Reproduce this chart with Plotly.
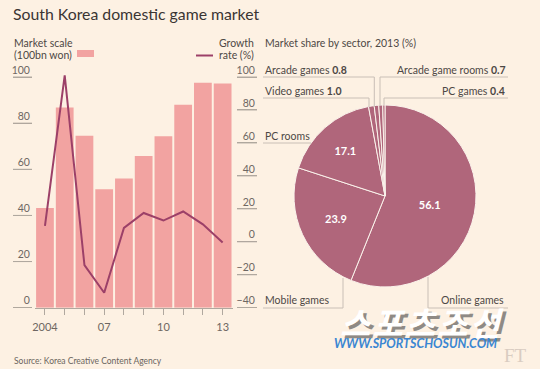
import plotly.graph_objects as go

# ---------------- data ----------------
years = [2004, 2005, 2006, 2007, 2008, 2009, 2010, 2011, 2012, 2013]
year_labels = ["2004", "", "", "07", "", "", "10", "", "", "13"]
market_scale = [43.2, 86.8, 74.5, 51.4, 56.0, 65.8, 74.3, 88.0, 97.5, 97.2]   # 100bn won
growth_rate = [9.6, 101.0, -14.2, -30.9, 8.4, 17.5, 12.9, 18.4, 10.6, -0.4]   # %
left_ticks = [0, 20, 40, 60, 80, 100]
right_ticks = [-40, -20, 0, 20, 40, 60, 80, 100]

sectors = ["Online games", "Mobile games", "PC rooms", "Video games",
           "Arcade games", "Arcade game rooms", "PC games"]
shares = [56.1, 23.9, 17.1, 1.0, 0.8, 0.7, 0.4]

# ---------------- style ----------------
W, H = 540, 369
BG = "#fdf1e3"
BAR = "#f2a3a1"
LINE = "#9c4068"
PIE = "#b0667b"
TXT = "#4d4845"
TICK = "#6e6762"
RULE = "#c9bfb6"
AXC = "#b0a89f"
FONT = "Lato"


def px(x):
    return x / W


def py(y):
    return 1 - y / H


fig = go.Figure()

fig.add_trace(go.Bar(x=years, y=market_scale, marker_color=BAR, marker_line_width=0,
                     name="Market scale", xaxis="x", yaxis="y", hoverinfo="skip"))
fig.add_trace(go.Scatter(x=years, y=growth_rate, mode="lines", line=dict(color=LINE, width=2),
                         name="Growth rate", xaxis="x", yaxis="y2", hoverinfo="skip"))

fig.add_trace(go.Pie(labels=sectors, values=shares, sort=False, direction="clockwise",
                     rotation=0, marker=dict(colors=[PIE] * len(shares), line=dict(color="#fbf3ec", width=1)),
                     text=[f"{v}" if v > 5 else "" for v in shares], textinfo="text",
                     textposition="inside", insidetextorientation="horizontal",
                     textfont=dict(color="white", size=11, family=FONT, weight=700),
                     domain=dict(x=[px(294), px(476)], y=[py(287), py(105)]),
                     showlegend=False, hoverinfo="skip"))

ydom = [py(307.7), py(67.8)]
fig.update_layout(
    width=W, height=H, autosize=False,
    margin=dict(l=0, r=0, t=0, b=0, pad=0, autoexpand=False),
    paper_bgcolor=BG, plot_bgcolor="rgba(0,0,0,0)",
    showlegend=False, bargap=0.1,
    font=dict(family=FONT, color=TXT, size=11),
    xaxis=dict(domain=[px(35.1), px(232.5)], range=[2003.5, 2013.5],
               tickvals=years, ticktext=year_labels, ticks="outside", ticklen=6,
               tickcolor=AXC, showline=True, linecolor=AXC, linewidth=1,
               showgrid=False, zeroline=False, anchor="y", ticklabelstandoff=3,
               tickfont=dict(size=11, color=TICK, family=FONT)),
    yaxis=dict(domain=ydom, range=[0, 104], tickvals=left_ticks, anchor="free",
               position=px(32), side="left", ticks="outside", ticklen=19,
               tickcolor=AXC, ticklabelstandoff=-19, ticklabelshift=-7,
               showgrid=False, zeroline=False, showline=False,
               tickfont=dict(size=10.5, color=TICK, family=FONT)),
    yaxis2=dict(domain=ydom, range=[-40, 105.6], tickvals=right_ticks, overlaying="y",
                anchor="free", position=px(257), side="left", ticks="outside", ticklen=20,
                tickcolor=AXC, ticklabelstandoff=-20, ticklabelshift=-7,
                showgrid=False, zeroline=False, showline=False,
                tickfont=dict(size=10.5, color=TICK, family=FONT)),
)

ann = []


def text(x, y, s, size=10.5, anchor="left", color=TXT, **kw):
    ann.append(dict(x=px(x), y=py(y), xref="paper", yref="paper", text=s, showarrow=False,
                    xanchor=anchor, yanchor="middle", font=dict(size=size, color=color,
                                                                  family=kw.pop("family", FONT)), **kw))


text(11, 14, "South Korea domestic game market", size=15.8, color="#3a3533")
text(12, 43, "Market scale", color=TXT)
text(12, 55, "(100bn won)", color=TXT)
text(256, 43, "Growth", anchor="right")
text(256, 55, "rate (%)", anchor="right")
text(263, 43, "Market share by sector, 2013 (%)")
text(12, 361, "Source: Korea Creative Content Agency", size=8.5, color="#6b6560")

text(263, 70, "Arcade games <b>0.8</b>")
text(263, 91, "Video games <b>1.0</b>")
text(508, 70, "Arcade game rooms <b>0.7</b>", anchor="right")
text(507, 91, "PC games <b>0.4</b>", anchor="right")
text(263, 136, "PC rooms")
text(263, 300, "Mobile games")
text(506, 300, "Online games", anchor="right")

shapes = []


def seg(x0, y0, x1, y1, color=RULE, w=1):
    shapes.append(dict(type="line", xref="paper", yref="paper", x0=px(x0), y0=py(y0),
                       x1=px(x1), y1=py(y1), line=dict(color=color, width=w)))


# short tick rules under the axis labels
for v in left_ticks:
    shapes.append(dict(type="line", xref="paper", yref="y", x0=px(13), x1=px(32), y0=v, y1=v,
                       line=dict(color=AXC, width=1)))
for v in right_ticks:
    shapes.append(dict(type="line", xref="paper", yref="y2", x0=px(237), x1=px(257), y0=v, y1=v,
                       line=dict(color=AXC, width=1)))

# legend swatches
shapes.append(dict(type="rect", xref="paper", yref="paper", x0=px(77), x1=px(94),
                   y0=py(57), y1=py(50), fillcolor=BAR, line=dict(width=0)))
seg(196, 55.5, 213, 55.5, color=LINE, w=2)

# leader lines
seg(263, 77, 374.3, 77); seg(374.3, 77, 374.3, 107)
seg(263, 98, 369, 98); seg(369, 98, 369, 107)
seg(380, 77, 508, 77); seg(380, 77, 380, 106)
seg(384, 98, 508, 98); seg(384, 98, 384, 105.5)
seg(263, 143, 311, 143)
seg(263, 308, 343, 308); seg(343, 308, 343, 278)
seg(428, 308, 508, 308); seg(428, 308, 428, 277)

# watermark / logo
wm = "\u200a".join("스포츠조선")
text(425, 325, f"<b><i>{wm}</i></b>", size=33, color="#8f8a85", family="Noto Sans CJK KR", anchor="center")
text(422, 322, f"<b><i>{wm}</i></b>", size=33, color="#ffffff", family="Noto Sans CJK KR", anchor="center")
text(415, 343, "<b><i>WWW.SPORTSCHOSUN.COM</i></b>", size=12.5, color="#3a86d2", anchor="center")
text(515, 355, "FT", size=19, color="#d9ccc1", anchor="center", family="Liberation Serif")

fig.update_layout(annotations=ann, shapes=shapes)
fig.write_html("out.html", config={"displayModeBar": False, "responsive": False},
               post_script="document.body.style.margin='0';document.body.style.overflow='hidden';")
